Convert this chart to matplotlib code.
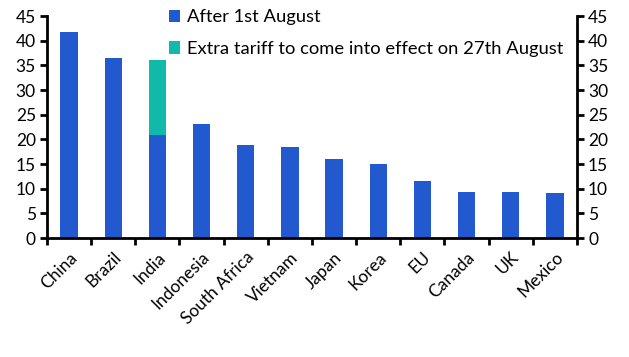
import matplotlib.pyplot as plt
import numpy as np

# Tariff rates (%) by country
countries = ["China", "Brazil", "India", "Indonesia", "South Africa", "Vietnam",
             "Japan", "Korea", "EU", "Canada", "UK", "Mexico"]
after_aug1 = [41.8, 36.5, 20.9, 23.1, 18.9, 18.5, 16.0, 15.0, 11.6, 9.3, 9.3, 9.1]
extra_aug27 = [0, 0, 15.2, 0, 0, 0, 0, 0, 0, 0, 0, 0]
yticks = list(range(0, 50, 5))

plt.rcParams['font.family'] = ['Lato', 'DejaVu Sans']
blue = '#2259CE'
teal = '#10B9A9'

fig = plt.figure(figsize=(6.29, 3.57), dpi=100)
ax = fig.add_axes([0.0747, 0.333, 0.8426, 0.622])

x = np.arange(len(countries))
ax.bar(x, after_aug1, width=0.39, color=blue, label="After 1st August")
ax.bar(x, extra_aug27, width=0.39, bottom=after_aug1, color=teal,
       label="Extra tariff to come into effect on 27th August")

ax.set_xlim(-0.5, len(countries) - 0.5)
ax.set_ylim(0, 45)
ax.set_yticks(yticks)
ax.tick_params(axis='y', which='both', direction='out', length=5, width=2,
               labelsize=12.5, left=True, right=True, labelleft=True, labelright=True, pad=3)

# category ticks sit between bars
ax.set_xticks(np.arange(-0.5, len(countries), 1.0))
ax.set_xticklabels([])
ax.set_xticks(x, minor=True)
ax.set_xticklabels(countries, minor=True, rotation=45, ha='right', rotation_mode='anchor',
                   fontsize=12.5)
ax.tick_params(axis='x', which='major', direction='out', length=5, width=2)
ax.tick_params(axis='x', which='minor', length=0, pad=8)

for side in ['left', 'right', 'bottom']:
    ax.spines[side].set_linewidth(2)
ax.spines['top'].set_visible(False)

leg = ax.legend(loc='upper left', bbox_to_anchor=(0.268, 0.974), bbox_transform=fig.transFigure,
                frameon=False, fontsize=13.2, handlelength=0.65, handleheight=0.65,
                handletextpad=0.35, labelspacing=0.85, borderaxespad=0, borderpad=0)

fig.savefig("out.png", dpi=100)
